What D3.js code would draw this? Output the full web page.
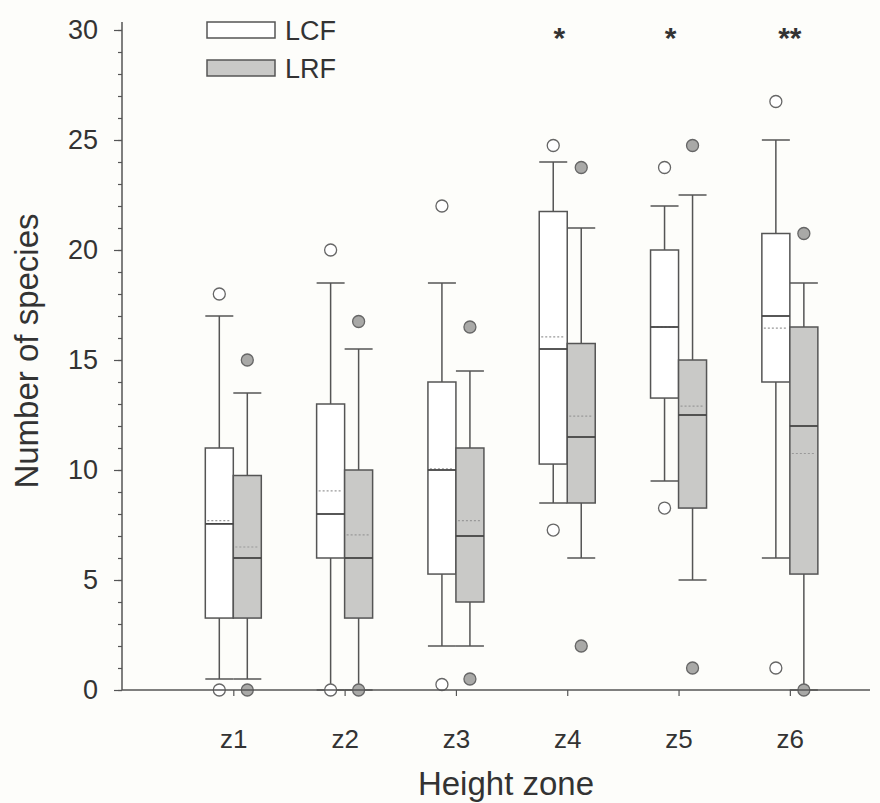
<!DOCTYPE html>
<html>
<head>
<meta charset="utf-8">
<script src="https://cdn.jsdelivr.net/npm/d3@7"></script>
<style>
  body { margin: 0; background: #fdfdfa; }
  text { font-family: "Liberation Sans", Arial, sans-serif; fill: #333; }
</style>
</head>
<body>
<div id="chart"></div>
<script>
// categories and significance marks
var zones = ["z1", "z2", "z3", "z4", "z5", "z6"];
var signif = ["", "", "", "*", "*", "**"];
var yTicks = [0, 5, 10, 15, 20, 25, 30];

// LCF box statistics
var lcfLow = [0.5, 0, 2, 8.5, 9.5, 6];
var lcfQ1 = [3.27, 6, 5.27, 10.27, 13.27, 14];
var lcfMedian = [7.55, 8, 10, 15.5, 16.5, 17];
var lcfQ3 = [11, 13, 14, 21.75, 20, 20.75];
var lcfHigh = [17, 18.5, 18.5, 24, 22, 25];
var lcfMean = [7.7, 9.05, 10.05, 16.05, 16.5, 16.45];
var lcfOutliers = [[18, 0], [20, 0], [22, 0.25], [24.75, 7.27], [23.75, 8.27], [26.75, 1]];

// LRF box statistics
var lrfLow = [0.5, 0, 2, 6, 5, 0];
var lrfQ1 = [3.27, 3.27, 4, 8.5, 8.27, 5.27];
var lrfMedian = [6, 6, 7, 11.5, 12.5, 12];
var lrfQ3 = [9.75, 10, 11, 15.75, 15, 16.5];
var lrfHigh = [13.5, 15.5, 14.5, 21, 22.5, 18.5];
var lrfMean = [6.5, 7.05, 7.7, 12.45, 12.9, 10.75];
var lrfOutliers = [[15, 0], [16.75, 0], [16.5, 0.5], [23.75, 2], [24.75, 1], [20.75, 0]];

var W = 880, H = 803;
var mLeft = 122, mRight = 870, mTop = 30, mBottom = 690;
var boxW = 28;

var svg = d3.select("#chart").append("svg")
    .attr("width", W)
    .attr("height", H);

// scales
var x = d3.scaleLinear().domain([0, 6.72]).range([mLeft, mRight]);
var y = d3.scaleLinear().domain([0, 30]).range([mBottom, mTop]);

// build one list of boxes from the arrays
var groups = [
    { name: "LCF", side: -1, fill: "#ffffff", dot: "#ffffff",
      low: lcfLow, q1: lcfQ1, med: lcfMedian, q3: lcfQ3, high: lcfHigh, mean: lcfMean, out: lcfOutliers },
    { name: "LRF", side: 1, fill: "#c9c9c7", dot: "#a9a9a7",
      low: lrfLow, q1: lrfQ1, med: lrfMedian, q3: lrfQ3, high: lrfHigh, mean: lrfMean, out: lrfOutliers }
];
var boxes = [];
groups.forEach(function(g) {
    zones.forEach(function(z, i) {
        boxes.push({ g: g, i: i,
            cx: x(i + 1) + g.side * boxW / 2,
            low: g.low[i], q1: g.q1[i], med: g.med[i], q3: g.q3[i],
            high: g.high[i], mean: g.mean[i], out: g.out[i] });
    });
});

var stroke = "#555";
var plot = svg.append("g");

// whiskers
plot.selectAll(".whisk").data(boxes).enter().append("line")
    .attr("x1", function(d) { return d.cx; })
    .attr("x2", function(d) { return d.cx; })
    .attr("y1", function(d) { return y(d.low); })
    .attr("y2", function(d) { return y(d.high); })
    .attr("stroke", stroke).attr("stroke-width", 1.5);

// caps
["low", "high"].forEach(function(k) {
    plot.selectAll(".cap-" + k).data(boxes).enter().append("line")
        .attr("x1", function(d) { return d.cx - boxW / 2; })
        .attr("x2", function(d) { return d.cx + boxW / 2; })
        .attr("y1", function(d) { return y(d[k]); })
        .attr("y2", function(d) { return y(d[k]); })
        .attr("stroke", stroke).attr("stroke-width", 1.5);
});

// boxes
plot.selectAll(".box").data(boxes).enter().append("rect")
    .attr("x", function(d) { return d.cx - boxW / 2; })
    .attr("width", boxW)
    .attr("y", function(d) { return y(d.q3); })
    .attr("height", function(d) { return y(d.q1) - y(d.q3); })
    .attr("fill", function(d) { return d.g.fill; })
    .attr("stroke", stroke).attr("stroke-width", 1.5);

// mean lines (dotted)
plot.selectAll(".mean").data(boxes).enter().append("line")
    .attr("x1", function(d) { return d.cx - boxW / 2 + 2; })
    .attr("x2", function(d) { return d.cx + boxW / 2 - 2; })
    .attr("y1", function(d) { return y(d.mean); })
    .attr("y2", function(d) { return y(d.mean); })
    .attr("stroke", "#999").attr("stroke-width", 1.2)
    .attr("stroke-dasharray", "2,2");

// median lines
plot.selectAll(".median").data(boxes).enter().append("line")
    .attr("x1", function(d) { return d.cx - boxW / 2; })
    .attr("x2", function(d) { return d.cx + boxW / 2; })
    .attr("y1", function(d) { return y(d.med); })
    .attr("y2", function(d) { return y(d.med); })
    .attr("stroke", "#444").attr("stroke-width", 1.8);

// outliers
var outs = [];
boxes.forEach(function(b) {
    b.out.forEach(function(v) { outs.push({ b: b, v: v }); });
});
plot.selectAll(".out").data(outs).enter().append("circle")
    .attr("cx", function(d) { return d.b.cx; })
    .attr("cy", function(d) { return y(d.v); })
    .attr("r", 6)
    .attr("fill", function(d) { return d.b.g.dot; })
    .attr("stroke", "#666").attr("stroke-width", 1.3);

// y axis with minor ticks
var gY = svg.append("g").attr("transform", "translate(" + mLeft + ",0)");
gY.call(d3.axisLeft(y).tickValues(d3.range(0, 31, 1)).tickSize(4).tickFormat(""));
gY.selectAll(".tick line").attr("stroke", stroke).attr("stroke-width", 1.2);
gY.select(".domain").remove();

var gYmaj = svg.append("g").attr("transform", "translate(" + mLeft + ",0)");
gYmaj.call(d3.axisLeft(y).tickValues(yTicks).tickSize(8).tickPadding(16));
gYmaj.selectAll(".tick line").attr("stroke", stroke).attr("stroke-width", 1.2);
gYmaj.select(".domain").attr("stroke", stroke).attr("stroke-width", 1.5)
    .attr("d", "M0," + (mTop - 8) + "V" + mBottom);
gYmaj.selectAll(".tick text")
    .style("font-size", "27px").style("fill", "#333")
    .style("font-family", "Liberation Sans, Arial, sans-serif");

// x axis
var gX = svg.append("g").attr("transform", "translate(0," + mBottom + ")");
gX.call(d3.axisBottom(x).tickValues([1, 2, 3, 4, 5, 6])
    .tickFormat(function(d) { return zones[d - 1]; })
    .tickSize(6).tickPadding(34));
gX.select(".domain").attr("stroke", stroke).attr("stroke-width", 1.5)
    .attr("d", "M" + mLeft + ",0H" + mRight);
gX.selectAll(".tick line").attr("stroke", stroke).attr("stroke-width", 1.2);
gX.selectAll(".tick text")
    .style("font-size", "26px").style("fill", "#333")
    .style("font-family", "Liberation Sans, Arial, sans-serif");

// axis titles
svg.append("text")
    .attr("x", 506).attr("y", 795)
    .attr("text-anchor", "middle")
    .style("font-size", "33px")
    .text("Height zone");
svg.append("text")
    .attr("transform", "translate(38,351) rotate(-90)")
    .attr("text-anchor", "middle")
    .style("font-size", "33px")
    .text("Number of species");

// significance stars
svg.selectAll(".sig").data(signif).enter().append("text")
    .attr("x", function(d, i) { return x(i + 1) + (d.length === 1 ? -8 : 0); })
    .attr("y", 48)
    .attr("text-anchor", "middle")
    .style("font-size", "30px")
    .style("font-weight", "bold")
    .text(function(d) { return d; });

// legend
var legend = svg.selectAll(".legend").data(groups).enter().append("g")
    .attr("transform", function(d, i) { return "translate(207," + (22 + i * 38) + ")"; });
legend.append("rect")
    .attr("width", 68).attr("height", 16)
    .attr("fill", function(d) { return d.fill; })
    .attr("stroke", stroke).attr("stroke-width", 1.5);
legend.append("text")
    .attr("x", 78).attr("y", 18)
    .style("font-size", "27px")
    .text(function(d) { return d.name; });
</script>
</body>
</html>
